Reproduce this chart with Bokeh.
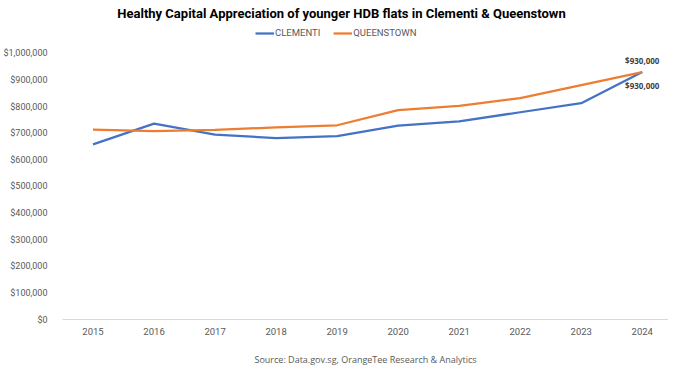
from bokeh.plotting import figure
from bokeh.models import (NumeralTickFormatter, FixedTicker, Legend, LegendItem,
                          Label, Range1d)
from bokeh.embed import file_html
from bokeh.resources import INLINE

years = [2015, 2016, 2017, 2018, 2019, 2020, 2021, 2022, 2023, 2024]
clementi = [658000, 736000, 695000, 682000, 689000, 729000, 745000, 779000, 813000, 930000]
queenstown = [714000, 708000, 713000, 722000, 730000, 787000, 803000, 832000, 881000, 930000]
y_ticks = [0, 100000, 200000, 300000, 400000, 500000, 600000, 700000, 800000, 900000, 1000000]

BLUE = "#4472C4"
ORANGE = "#ED7D31"
FONT = "Roboto"

p = figure(frame_width=606, frame_height=319, output_backend="svg", toolbar_location=None,
           x_range=Range1d(2014.5, 2024.43), y_range=Range1d(0, 1199000),
           min_border_left=60, min_border_right=0, min_border_top=0,
           min_border_bottom=0)
p.outline_line_color = None
p.xgrid.grid_line_color = None
p.ygrid.grid_line_color = None

r1 = p.line(years, clementi, line_color=BLUE, line_width=2.25)
r2 = p.line(years, queenstown, line_color=ORANGE, line_width=2.25)

p.xaxis.ticker = FixedTicker(ticks=years)
p.xaxis.major_tick_line_color = None
p.xaxis.minor_tick_line_color = None
p.xaxis.axis_line_color = "#D9D9D9"
p.xaxis.major_label_text_font = FONT
p.xaxis.major_label_text_font_size = "9.5px"
p.xaxis.major_label_text_color = "#595959"
p.xaxis.major_label_standoff = 2
p.xaxis.axis_label = "Source: Data.gov.sg, OrangeTee Research & Analytics"
p.xaxis.axis_label_text_font = "Open Sans"
p.xaxis.axis_label_text_font_size = "9px"
p.xaxis.axis_label_text_font_style = "normal"
p.xaxis.axis_label_text_color = "#595959"
p.xaxis.axis_label_standoff = 15

p.yaxis.ticker = FixedTicker(ticks=y_ticks)
p.yaxis.formatter = NumeralTickFormatter(format="$0,0")
p.yaxis.major_tick_line_color = None
p.yaxis.minor_tick_line_color = None
p.yaxis.axis_line_color = None
p.yaxis.major_label_text_font = FONT
p.yaxis.major_label_text_font_size = "9px"
p.yaxis.major_label_text_color = "#595959"
p.yaxis.major_label_standoff = 9

p.add_layout(Label(x=279, y=306, x_units="screen", y_units="screen",
                   text="Healthy Capital Appreciation of younger HDB flats in Clementi & Queenstown",
                   text_align="center", text_baseline="middle",
                   text_font=FONT, text_font_size="13px", text_font_style="bold",
                   text_color="#000000"))

legend = Legend(items=[LegendItem(label="CLEMENTI", renderers=[r1]),
                       LegendItem(label="QUEENSTOWN", renderers=[r2])],
                orientation="horizontal", location=(193, 281),
                background_fill_alpha=0, border_line_color=None,
                label_text_font=FONT, label_text_font_size="9.5px",
                label_text_color="#595959", glyph_width=19, glyph_height=10,
                label_standoff=1, spacing=13, padding=0, margin=0)
p.add_layout(legend, "center")

p.add_layout(Label(x=years[-1], y=queenstown[-1], text="${:,}".format(queenstown[-1]),
                   y_offset=12, text_align="center", text_baseline="middle",
                   text_font="Open Sans", text_font_size="8px", text_font_style="bold",
                   text_color="#404040"))
p.add_layout(Label(x=years[-1], y=clementi[-1], text="${:,}".format(clementi[-1]),
                   y_offset=-13, text_align="center", text_baseline="middle",
                   text_font="Open Sans", text_font_size="8px", text_font_style="bold",
                   text_color="#404040"))

open("out.html", "w").write(file_html(p, INLINE))
